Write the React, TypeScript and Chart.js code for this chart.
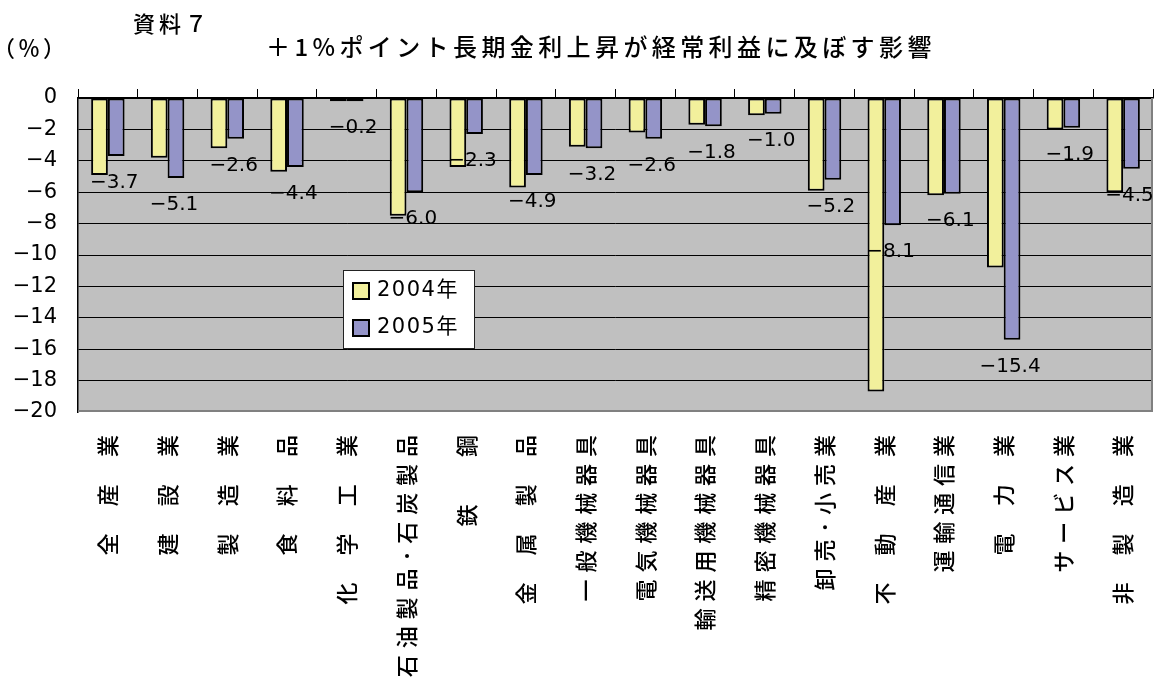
import { useEffect, useRef } from "react";
import { Chart, registerables } from "chart.js";

Chart.register(...registerables);

// Industries (vertical labels under the plot)
const categories = [
  "全　産　業",
  "建　設　業",
  "製　造　業",
  "食　料　品",
  "化　学　工　業",
  "石油製品･石炭製品",
  "鉄　　鋼",
  "金　属　製　品",
  "一般機械器具",
  "電気機械器具",
  "輸送用機械器具",
  "精密機械器具",
  "卸売･小売業",
  "不　動　産　業",
  "運輸通信業",
  "電　力　業",
  "サービス業",
  "非　製　造　業",
];

const seriesNames = ["2004年", "2005年"];

// Impact on ordinary profit (%)
const values2004 = [-4.9, -3.8, -3.2, -4.7, -0.2, -7.5, -4.4, -5.7, -3.1, -2.2, -1.7, -1.1, -5.9, -18.7, -6.2, -10.8, -2.0, -6.0];
const values2005 = [-3.7, -5.1, -2.6, -4.4, -0.2, -6.0, -2.3, -4.9, -3.2, -2.6, -1.8, -1.0, -5.2, -8.1, -6.1, -15.4, -1.9, -4.5];

const yMin = -20;
const yMax = 0;
const yStep = 2;

const docLabel = "資料７";
const unitLabel = "（％）";
const chartTitle = "＋1%ポイント長期金利上昇が経常利益に及ぼす影響";

const COLORS = ["#F2F09C", "#9494C8"];
const CJK = '"Noto Sans CJK JP", sans-serif';
const NUM = '"DejaVu Sans", "Noto Sans CJK JP", sans-serif';

const fmt = (v: number) => (v < 0 ? "\u2212" : "") + Math.abs(v).toFixed(1);

type Ctx = CanvasRenderingContext2D;

function runWidth(ctx: Ctx, text: string, gap: number, spaceAdv: number | null = null) {
  const chars = Array.from(text);
  let w = 0;
  chars.forEach((ch, i) => {
    if (ch === "　" && spaceAdv != null) w += spaceAdv;
    else w += ctx.measureText(ch).width + (i < chars.length - 1 ? gap : 0);
  });
  return w;
}

// Draw text left-to-right, one glyph at a time with extra tracking
function drawRun(ctx: Ctx, text: string, x: number, y: number, gap: number, spaceAdv: number | null = null) {
  let cx = x;
  for (const ch of Array.from(text)) {
    if (ch === "　" && spaceAdv != null) {
      cx += spaceAdv;
      continue;
    }
    ctx.fillText(ch, cx, y);
    cx += ctx.measureText(ch).width + gap;
  }
}

const decorations = {
  id: "decorations",
  beforeDraw(chart: any) {
    const { ctx, chartArea: a } = chart;
    ctx.save();
    ctx.fillStyle = "#ffffff";
    ctx.fillRect(0, 0, chart.width, chart.height);
    ctx.fillStyle = "#C0C0C0";
    ctx.fillRect(a.left, a.top, a.right - a.left, a.bottom - a.top);
    ctx.restore();
  },
  beforeDatasetsDraw(chart: any) {
    const { ctx, chartArea: a } = chart;
    ctx.save();
    ctx.strokeStyle = "#808080";
    ctx.lineWidth = 2;
    ctx.beginPath();
    ctx.moveTo(a.left, a.bottom - 1);
    ctx.lineTo(a.right - 1, a.bottom - 1);
    ctx.lineTo(a.right - 1, a.top);
    ctx.stroke();
    ctx.restore();
  },
  afterDraw(chart: any) {
    const { ctx } = chart;
    ctx.save();
    ctx.fillStyle = "#000";
    ctx.textAlign = "left";
    ctx.textBaseline = "middle";

    // headings
    ctx.font = `500 22px ${CJK}`;
    drawRun(ctx, docLabel, 133, 24, 4);
    ctx.font = `500 22px ${CJK}`;
    drawRun(ctx, unitLabel, -7, 48, 3);
    ctx.font = `500 24px ${CJK}`;
    drawRun(ctx, chartTitle, 266, 47, 4.4);

    // value labels of the 2005 series
    ctx.font = `20px ${NUM}`;
    const meta = chart.getDatasetMeta(1);
    meta.data.forEach((bar: any, i: number) => {
      const t = fmt(values2005[i]);
      const w = runWidth(ctx, t, 0);
      drawRun(ctx, t, bar.x - 2 - w / 2, bar.y + 27, 0);
    });

    // category labels, rotated, reading bottom to top
    const xs = chart.scales.x;
    ctx.font = `500 22px ${CJK}`;
    categories.forEach((label, i) => {
      const x = xs.getPixelForValue(i);
      ctx.save();
      ctx.translate(x, 435);
      ctx.rotate(-Math.PI / 2);
      const chars = Array.from(label);
      let pos = 0;
      for (let k = chars.length - 1; k >= 0; k--) {
        const ch = chars[k];
        if (ch === "　") {
          pos -= 20.3;
          continue;
        }
        const w = ctx.measureText(ch).width;
        pos -= w;
        ctx.fillText(ch, pos, 0);
        pos -= 6.9;
      }
      ctx.restore();
    });

    // legend
    const lx = 343, ly = 270, lw = 131, lh = 78;
    ctx.fillStyle = "#ffffff";
    ctx.fillRect(lx, ly, lw, lh);
    ctx.strokeStyle = "#222";
    ctx.lineWidth = 1;
    ctx.strokeRect(lx + 0.5, ly + 0.5, lw, lh);
    ctx.font = `21px ${NUM}`;
    chart.data.datasets.forEach((ds: any, i: number) => {
      const cy = 291 + i * 37;
      ctx.fillStyle = ds.backgroundColor;
      ctx.fillRect(353, cy - 8, 16, 16);
      ctx.strokeStyle = "#000";
      ctx.lineWidth = 2;
      ctx.strokeRect(353, cy - 8, 16, 16);
      ctx.fillStyle = "#000";
      drawRun(ctx, ds.label, 377, cy, 1.5);
    });
    ctx.restore();
  },
};

export default function App() {
  const ref = useRef<HTMLCanvasElement>(null);

  useEffect(() => {
    if (!ref.current) return;
    const chart = new Chart(ref.current, {
      type: "bar",
      data: {
        labels: categories,
        datasets: [values2004, values2005].map((vals, i) => ({
          label: seriesNames[i],
          data: vals,
          backgroundColor: COLORS[i],
          borderColor: "#000",
          borderWidth: 2,
          borderSkipped: false,
          categoryPercentage: 0.56,
          barPercentage: 1,
        })),
      },
      options: {
        responsive: false,
        animation: false,
        devicePixelRatio: 1,
        layout: { padding: { top: 89, right: 1, bottom: 270, left: 0 } },
        plugins: {
          legend: { display: false },
          title: { display: false },
          tooltip: { enabled: false },
        },
        scales: {
          x: {
            position: "top",
            ticks: { display: false },
            grid: {
              offset: true,
              drawOnChartArea: false,
              drawTicks: true,
              tickLength: 9,
              color: "#000",
              lineWidth: 1,
            },
            border: { display: true, color: "#000", width: 1.5 },
            afterFit: (s: any) => {
              s.height = 9;
            },
          },
          y: {
            min: yMin,
            max: yMax,
            ticks: {
              stepSize: yStep,
              padding: 21,
              color: "#000",
              font: { family: NUM, size: 21 },
              callback: (v: any) => (Number(v) < 0 ? "\u2212" + Math.abs(Number(v)) : String(v)),
            },
            grid: {
              color: (c: any) => (c.tick && c.tick.value === yMin ? "rgba(0,0,0,0)" : "#000"),
              lineWidth: 1,
              drawTicks: false,
            },
            border: { display: true, color: "#000", width: 1.5 },
            afterFit: (s: any) => {
              s.width = 78;
            },
          },
        },
      },
      plugins: [decorations],
    } as any);
    return () => chart.destroy();
  }, []);

  return (
    <div style={{ position: "absolute", left: 0, top: 0, width: 1154, height: 682, background: "#fff" }}>
      <canvas ref={ref} width={1154} height={682} style={{ display: "block" }} />
    </div>
  );
}
